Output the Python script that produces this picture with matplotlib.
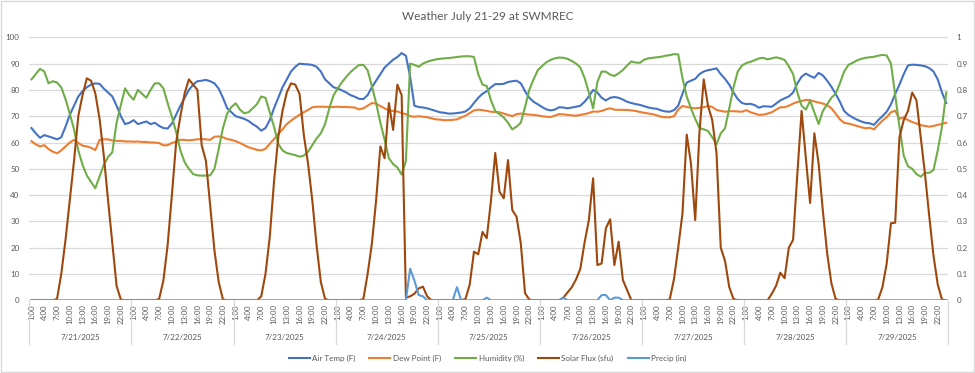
import matplotlib.pyplot as plt
import matplotlib.transforms as mtransforms
from matplotlib.patches import Rectangle
import numpy as np

plt.rcParams['font.family'] = ['Lato', 'DejaVu Sans']

# hourly readings, 7/21 1:00 through 7/29 24:00 (24 per day)
dates = ["7/21/2025", "7/22/2025", "7/23/2025", "7/24/2025", "7/25/2025",
         "7/26/2025", "7/27/2025", "7/28/2025", "7/29/2025"]
hours = [f"{h}:00" for h in range(1, 24)] + ["0:00"]

air_temp = [
    65.5, 63.5, 61.8, 62.8, 62.3, 61.8, 61.2, 62, 66, 70.5, 74, 77.5, 79.5, 81, 82, 82.5, 82.3, 80.5, 79, 77.5, 74, 70, 67, 67.5,
    68.5, 67, 67.5, 68, 67, 67.5, 66.3, 65.5, 65.3, 67.2, 70.6, 74, 77, 80, 82, 83.3, 83.5, 83.8, 83.3, 82.5, 80.5, 77, 73, 71.5,
    70, 69.5, 69, 68.2, 67, 66, 64.5, 65.5, 68.5, 73, 77, 81, 84, 87, 88.8, 90, 89.8, 89.7, 89.5, 88.8, 87, 84, 82.5, 81,
    80.5, 79.8, 79, 78, 77.4, 76.6, 76.5, 78, 81, 83.5, 86, 88.5, 90, 91.5, 92.5, 94, 93, 85, 74, 73.5, 73.3, 73, 72.5, 72,
    71.5, 71.3, 71, 71, 71.2, 71.4, 71.8, 73, 75, 77, 78.5, 79.5, 81, 82.2, 82.2, 82.3, 83, 83.3, 83.5, 82.5, 79.5, 77, 75.5, 74.5,
    73.5, 72.6, 72.2, 72.5, 73.4, 73.3, 73, 73.3, 73.6, 74, 75.5, 77.5, 80, 79, 77, 76, 77, 77.3, 77, 76.3, 75.5, 75, 74.6, 74.3,
    73.8, 73.3, 73, 72.8, 72.2, 71.8, 71.7, 72.3, 74, 78.5, 82.8, 83.5, 84.2, 86, 87, 87.5, 87.8, 88.2, 86, 84.2, 82, 79, 76.5, 75,
    74.6, 74.7, 74.2, 73.2, 73.8, 73.7, 73.6, 74.8, 76, 76.8, 77.5, 79, 82.5, 85, 86.2, 85.3, 84.6, 86.5, 85.5, 83.5, 81.2, 78.5, 75.5, 72,
    70.5, 69.5, 68.7, 68, 67.5, 67.3, 66.7, 68.5, 70, 71.7, 74.5, 78.5, 82, 86, 89.3, 89.6, 89.5, 89.3, 89, 88.3, 87, 84, 79, 75,
]

dew_point = [
    60.5, 59.3, 58.5, 59, 57.5, 56.5, 55.9, 57, 58.5, 60, 61, 59.8, 58.8, 58.5, 58, 57.1, 61, 61.2, 61.2, 60.8, 60.6, 60.6, 60.4, 60.4,
    60.3, 60.4, 60.2, 60.2, 60, 60, 59.8, 58.9, 59, 59.8, 60.3, 61, 61, 60.8, 61, 61.2, 61.3, 61.2, 61, 62.2, 62.3, 62, 61.3, 61,
    60.5, 59.8, 59, 58.2, 57.7, 57.2, 57, 57.6, 59.5, 61.3, 63.3, 65, 67, 68.3, 69.5, 70.5, 71.5, 72.4, 73.4, 73.6, 73.6, 73.6, 73.5, 73.5,
    73.6, 73.5, 73.5, 73.4, 73.3, 72.6, 73, 74, 75, 74.8, 73.8, 73, 72.2, 72, 71.8, 71.2, 70.8, 70, 69.8, 70, 69.8, 69.6, 69.2, 68.8,
    68.7, 68.5, 68.5, 68.6, 68.8, 69.5, 70.2, 71.2, 72.2, 72.5, 72.3, 72, 71.7, 71.6, 71.5, 71, 70.5, 70, 70.8, 71, 70.8, 70.6, 70.5, 70.3,
    70, 69.8, 69.7, 70.2, 70.8, 70.7, 70.5, 70.3, 70.2, 70.5, 70.8, 71.2, 71.8, 71.7, 72, 72.6, 73, 72.5, 72.4, 72.4, 72.4, 72.2, 72, 71.6,
    71.3, 71, 70.8, 70.3, 69.8, 69.6, 69.6, 70, 72.5, 73.9, 73.5, 73.2, 73, 73.2, 73.4, 73.9, 73.5, 72.4, 72, 71.7, 71.9, 71.9, 71.8, 71.7,
    72.3, 71.5, 71, 70.5, 70.6, 71, 71.5, 72.5, 73.4, 73.4, 74, 74.8, 75.4, 75.8, 76.2, 76.1, 75.6, 75.2, 74.8, 74.2, 73, 71, 68.8, 67.5,
    67.2, 66.8, 66.3, 65.8, 65.4, 65.6, 65, 66.7, 68.3, 69.6, 71.5, 72.1, 69, 69.6, 68.5, 67.8, 67.2, 66.6, 66.3, 66, 66.3, 66.7, 67.1, 67.5,
]

humidity = [
    84, 86, 88, 87, 82.5, 83.3, 82.8, 81, 76.5, 71, 65, 57, 51.5, 47.5, 45, 42.6, 47, 51.5, 54.5, 56.3, 67.5, 74.2, 80.6, 78,
    76.3, 80, 78.5, 77, 80, 82.5, 82.5, 80.6, 75, 69.8, 64, 57, 52.5, 50, 48, 47.5, 47.4, 47.4, 47.5, 50, 57.5, 65.5, 71, 73.5,
    74.9, 72.5, 71.1, 71.5, 73, 74.6, 77.5, 77, 71.5, 66, 59.5, 57, 56, 55.6, 55.2, 54.6, 55, 56.5, 59, 61.5, 63.5, 67, 73, 78,
    80.6, 83, 85, 86.8, 88.2, 89.5, 89.5, 87.5, 81.5, 75, 67.5, 61, 54, 51.8, 50.5, 47.8, 53, 90, 89.5, 88.8, 90, 90.7, 91.2, 91.6,
    91.8, 92, 92.1, 92.3, 92.5, 92.7, 92.8, 92.8, 92.5, 86, 82, 81.5, 76, 72, 70.8, 69.5, 67.5, 65, 66, 67.5, 73.5, 80, 84, 87.5,
    89, 90.5, 91.4, 92, 92.3, 92.2, 91.8, 91, 90, 88.5, 84.5, 79, 73, 83, 87, 86.9, 85.8, 85.3, 86.3, 87.6, 89.3, 90.8, 90.4, 90.3,
    91.5, 92, 92.2, 92.4, 92.6, 93, 93.2, 93.6, 93.5, 84.5, 77.5, 73, 69, 65.5, 65, 64.4, 62, 59.3, 63.5, 65.4, 73, 81, 87, 89.3,
    90.2, 90.7, 91.3, 92, 92.2, 91.6, 92, 92.4, 92, 91.4, 89, 86, 79, 74, 72.5, 75.9, 71.5, 67, 72, 74.5, 77, 78.5, 82.5, 87,
    89.5, 90.3, 91.2, 91.8, 92.2, 92.4, 92.6, 93, 93.3, 93.1, 90, 78, 66, 55, 51, 50, 48, 47, 48.5, 48.5, 49.5, 57, 66, 79,
]

solar_flux = [
    0, 0, 0, 0, 0, 0, 0.5, 10, 23, 38, 53, 70, 78, 84.4, 83.5, 78.7, 69, 55, 38, 21.7, 5.5, 0.3, 0, 0,
    0, 0, 0, 0, 0, 0, 0.5, 7.5, 21, 40, 60, 70, 78.7, 84, 82, 80, 59, 53, 36, 19, 7, 0.3, 0, 0,
    0, 0, 0, 0, 0, 0, 1.5, 10, 24, 45, 62, 72, 79, 82.5, 82, 78.5, 63, 52, 38, 21, 7, 0.5, 0, 0,
    0, 0, 0, 0, 0, 0, 0.5, 10, 21.5, 38, 58.5, 54, 75, 64.8, 82, 78, 1, 1.5, 2.5, 4.5, 5.2, 1.5, 0, 0,
    0, 0, 0, 0, 0, 0, 0.5, 6, 18.5, 17.5, 26, 23.6, 38, 56, 41.3, 38.8, 53.3, 34.3, 31.8, 21.7, 2.7, 0.3, 0, 0,
    0, 0, 0, 0, 0, 1, 3, 5, 8, 12, 22, 30.5, 46.4, 13.4, 14, 27.4, 30.8, 13.4, 22.3, 7.7, 3.9, 0, 0, 0,
    0, 0, 0, 0, 0, 0, 0.3, 8, 20, 33, 63, 52, 30.5, 64, 84, 74, 68.5, 56, 20, 15, 5, 0.5, 0, 0,
    0, 0, 0, 0, 0, 0, 2.5, 5.5, 10.5, 8.4, 20, 23, 48, 72, 54, 37, 63.5, 52, 34, 18, 6.5, 0.5, 0, 0,
    0, 0, 0, 0, 0, 0, 0, 0.3, 5, 14, 29.3, 29.5, 62, 68.5, 72, 79, 76, 62, 48, 32, 17, 6, 0.3, 0,
]

precip = [
    0, 0, 0, 0, 0, 0, 0, 0, 0, 0, 0, 0, 0, 0, 0, 0, 0, 0, 0, 0, 0, 0, 0, 0,
    0, 0, 0, 0, 0, 0, 0, 0, 0, 0, 0, 0, 0, 0, 0, 0, 0, 0, 0, 0, 0, 0, 0, 0,
    0, 0, 0, 0, 0, 0, 0, 0, 0, 0, 0, 0, 0, 0, 0, 0, 0, 0, 0, 0, 0, 0, 0, 0,
    0, 0, 0, 0, 0, 0, 0, 0, 0, 0, 0, 0, 0, 0, 0, 0, 0, 0.12, 0.075, 0.02, 0.015, 0, 0, 0,
    0, 0, 0, 0, 0.05, 0, 0, 0, 0, 0, 0, 0.01, 0, 0, 0, 0, 0, 0, 0, 0, 0, 0, 0, 0,
    0, 0, 0, 0, 0, 0.01, 0, 0, 0, 0, 0, 0, 0, 0, 0.02, 0.02, 0, 0.01, 0.01, 0, 0, 0, 0, 0,
    0, 0, 0, 0, 0, 0, 0, 0, 0, 0, 0, 0, 0, 0, 0, 0, 0, 0, 0, 0, 0, 0, 0, 0,
    0, 0, 0, 0, 0, 0, 0, 0, 0, 0, 0, 0, 0, 0, 0, 0, 0, 0, 0, 0, 0, 0, 0, 0,
    0, 0, 0, 0, 0, 0, 0, 0, 0, 0, 0, 0, 0, 0, 0, 0, 0, 0, 0, 0, 0, 0, 0, 0,
]

grey = '#595959'
light = '#D9D9D9'
x = np.arange(len(air_temp))

fig = plt.figure(figsize=(9.75, 3.73), dpi=100)
ax = fig.add_axes([0.0301, 0.1949, 0.9426, 0.7051])
ax2 = ax.twinx()

ax.plot(x, air_temp, color='#4472C4', lw=1.5, label='Air Temp (F)')
ax.plot(x, dew_point, color='#ED7D31', lw=1.5, label='Dew Point (F)')
ax.plot(x, humidity, color='#70AD47', lw=1.5, label='Humidity (%)')
ax.plot(x, solar_flux, color='#9E480E', lw=1.5, label='Solar Flux (sfu)')
ax2.plot(x, precip, color='#5B9BD5', lw=1.5, label='Precip (in)')

ax.set_xlim(-0.5, len(x) - 0.5)
ax.set_ylim(0, 100)
ax2.set_ylim(0, 1)
ax.set_yticks(range(0, 101, 10))
ax2.set_yticks(np.arange(0, 1.01, 0.1))
ax2.set_yticklabels(['0', '0.1', '0.2', '0.3', '0.4', '0.5', '0.6', '0.7', '0.8', '0.9', '1'])
ax.yaxis.grid(True, color=light, lw=0.9)
ax.set_axisbelow(True)

for a in (ax, ax2):
    for s in a.spines.values():
        s.set_visible(False)
ax.tick_params(axis='y', length=0, labelsize=5.8, labelcolor=grey, pad=7)
ax2.tick_params(axis='y', length=0, labelsize=5.8, labelcolor=grey, pad=6)

# hour labels every 3 hours within each day
tick_pos = [24 * d + k for d in range(len(dates)) for k in range(0, 24, 3)]
ax.set_xticks(tick_pos)
ax.set_xticklabels([hours[p % 24] for p in tick_pos], rotation=90)
ax.tick_params(axis='x', length=0, labelsize=5.6, labelcolor=grey, pad=3)

trans = mtransforms.blended_transform_factory(ax.transData, ax.transAxes)
for d, label in enumerate(dates):
    ax.text(24 * d + 11.5, -0.143, label, transform=trans, ha='center', va='center',
            fontsize=5.8, color=grey)
for d in range(len(dates) + 1):
    ax.plot([24 * d - 0.5] * 2, [0, -0.165], transform=trans, color=light, lw=0.9, clip_on=False)

handles = ax.get_legend_handles_labels()[0] + ax2.get_legend_handles_labels()[0]
labels = [h.get_label() for h in handles]
leg = fig.legend(handles, labels, loc='center', bbox_to_anchor=(0.5, 0.04), ncol=5,
                 frameon=False, fontsize=5.8, handlelength=2.6, handletextpad=0.3,
                 columnspacing=1.75)
for t in leg.get_texts():
    t.set_color(grey)

fig.text(0.5, 0.957, 'Weather July 21-29 at SWMREC', ha='center', va='center',
         fontsize=8.5, color=grey)
fig.patches.append(Rectangle((0.001, 0.002), 0.998, 0.995, transform=fig.transFigure,
                             fill=False, edgecolor=light, lw=1))

fig.savefig('out.png', dpi=100)
